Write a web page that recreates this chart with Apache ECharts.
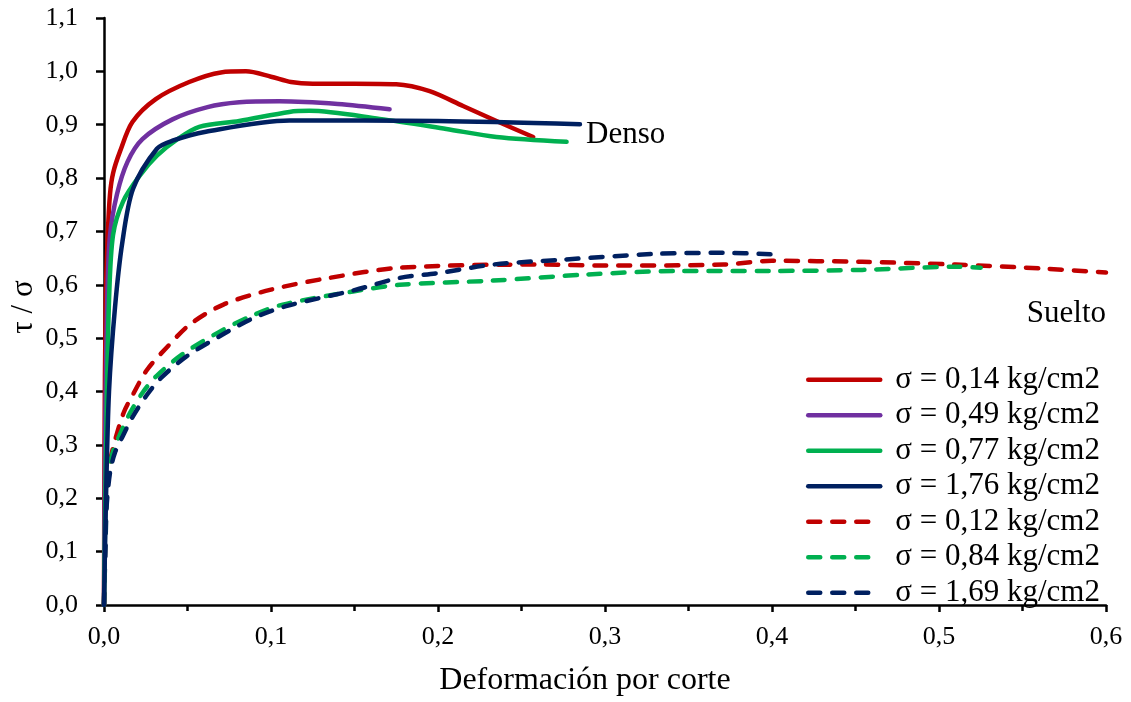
<!DOCTYPE html>
<html><head><meta charset="utf-8">
<script src="https://cdn.jsdelivr.net/npm/echarts@6/dist/echarts.min.js"></script>
<style>html,body{margin:0;padding:0;background:#fff}#c{width:1131px;height:702px}</style>
</head><body><div id="c"></div>
<script>
var xTicks = [0, 0.1, 0.2, 0.3, 0.4, 0.5, 0.6];
var yTicks = [0, 0.1, 0.2, 0.3, 0.4, 0.5, 0.6, 0.7, 0.8, 0.9, 1.0, 1.1];
var seriesNames = ['σ = 0,14 kg/cm2','σ = 0,49 kg/cm2','σ = 0,77 kg/cm2','σ = 1,76 kg/cm2','σ = 0,12 kg/cm2','σ = 0,84 kg/cm2','σ = 1,69 kg/cm2'];
// Denso (solid)
var denso014 = [[0,0],[0.0003,0.3],[0.001,0.56],[0.0022,0.69],[0.0036,0.77],[0.0055,0.81],[0.0096,0.85],[0.017,0.905],[0.031,0.948],[0.051,0.98],[0.07,0.998],[0.085,1.0],[0.1,0.99],[0.112,0.98],[0.125,0.977],[0.15,0.977],[0.175,0.976],[0.195,0.963],[0.215,0.935],[0.235,0.907],[0.257,0.877]];
var denso049 = [[0,0],[0.0008,0.35],[0.002,0.58],[0.0036,0.693],[0.0078,0.77],[0.014,0.83],[0.023,0.873],[0.041,0.91],[0.062,0.933],[0.081,0.942],[0.105,0.944],[0.14,0.939],[0.171,0.929]];
var denso077 = [[0,0],[0.0015,0.35],[0.003,0.57],[0.0054,0.693],[0.0114,0.756],[0.0215,0.805],[0.0317,0.842],[0.044,0.873],[0.057,0.896],[0.081,0.907],[0.111,0.924],[0.123,0.926],[0.165,0.911],[0.205,0.892],[0.235,0.877],[0.277,0.868]];
var denso176 = [[0,0],[0.0012,0.2],[0.003,0.4],[0.0066,0.558],[0.011,0.68],[0.0174,0.78],[0.0317,0.855],[0.041,0.87],[0.061,0.887],[0.111,0.908],[0.2,0.907],[0.285,0.901]];
// Suelto (dashed)
var suelto012 = [[0,0],[0.0006,0.1],[0.0012,0.18],[0.002,0.22],[0.0035,0.265],[0.0056,0.297],[0.0116,0.359],[0.0176,0.396],[0.0256,0.44],[0.0377,0.483],[0.0515,0.526],[0.0715,0.563],[0.1,0.591],[0.135,0.613],[0.177,0.632],[0.26,0.638],[0.3,0.636],[0.371,0.638],[0.4,0.645],[0.454,0.643],[0.51,0.638],[0.565,0.63],[0.6,0.623]];
var suelto084 = [[0,0],[0.0006,0.1],[0.0012,0.18],[0.002,0.22],[0.0035,0.262],[0.0056,0.29],[0.0096,0.32],[0.0156,0.36],[0.0236,0.4],[0.0317,0.43],[0.047,0.47],[0.068,0.51],[0.087,0.54],[0.107,0.563],[0.15,0.588],[0.177,0.6],[0.233,0.608],[0.288,0.619],[0.344,0.626],[0.399,0.626],[0.454,0.628],[0.51,0.634],[0.525,0.632]];
var suelto169 = [[0,0],[0.0008,0.1],[0.0015,0.18],[0.0025,0.22],[0.004,0.255],[0.0065,0.285],[0.011,0.315],[0.0176,0.355],[0.026,0.395],[0.034,0.425],[0.049,0.465],[0.07,0.505],[0.089,0.537],[0.109,0.56],[0.15,0.59],[0.177,0.613],[0.2,0.622],[0.233,0.638],[0.274,0.647],[0.33,0.658],[0.371,0.66],[0.4,0.657]];

var colors = ['#C00000','#7030A0','#00B050','#002060','#C00000','#00B050','#002060'];
var datasets = [denso014, denso049, denso077, denso176, suelto012, suelto084, suelto169];
var dashed = [false,false,false,false,true,true,true];

var font = '"Liberation Serif","Times New Roman",serif';
var fmt = function(v){ return (Math.round(v*10)/10).toFixed(1).replace('.', ','); };

var series = datasets.map(function(d, i){
  return {
    name: seriesNames[i], type: 'line', data: d, smooth: 0.3,
    symbol: 'none', showSymbol: false, color: colors[i],
    lineStyle: { color: colors[i], width: 4.5, type: dashed[i] ? [12, 12] : 'solid', cap: 'round', join: 'round' },
    z: dashed[i] ? 2 : 3
  };
});

var chart = echarts.init(document.getElementById('c'));
chart.setOption({
  animation: false,
  backgroundColor: '#fff',
  textStyle: { fontFamily: font },
  grid: { left: 104, right: 25, top: 18, bottom: 92, containLabel: false },
  xAxis: {
    type: 'value', min: xTicks[0], max: xTicks[xTicks.length-1], interval: 0.1,
    name: 'Deformación por corte', nameLocation: 'middle', nameGap: 60,
    nameTextStyle: { fontFamily: font, fontSize: 32, color: '#000', padding: [0, 40, 0, 0] },
    axisLine: { onZero: false, lineStyle: { color: '#000', width: 2.5 } },
    axisTick: { show: true, length: 7, lineStyle: { color: '#000', width: 2.5 } },
    minorTick: { show: true, splitNumber: 2, length: 6, lineStyle: { color: '#000', width: 2.5 } },
    axisLabel: { fontFamily: font, fontSize: 26, color: '#000', margin: 19, formatter: fmt },
    splitLine: { show: false }
  },
  yAxis: {
    type: 'value', min: yTicks[0], max: yTicks[yTicks.length-1], interval: 0.1,
    axisLine: { show: true, onZero: false, lineStyle: { color: '#000', width: 2.5 } },
    axisTick: { show: true, length: 8, lineStyle: { color: '#000', width: 2.5 } },
    axisLabel: { fontFamily: font, fontSize: 26, color: '#000', margin: 26, formatter: fmt },
    splitLine: { show: false }
  },
  legend: {
    orient: 'vertical', left: 801, top: 357, itemWidth: 72, itemHeight: 14, itemGap: 0,
    data: seriesNames,
    itemStyle: { opacity: 0 },
    lineStyle: { width: 4.5, cap: 'round' },
    textStyle: { fontFamily: font, fontSize: 31, color: '#000', lineHeight: 35.5, padding: [0, 0, 0, 10] }
  },
  graphic: [
    { type: 'text', left: 586, top: 119, style: { text: 'Denso', font: '31px ' + font, fill: '#000' } },
    { type: 'text', right: 25, top: 298, style: { text: 'Suelto', font: '31px ' + font, fill: '#000' } },
    { type: 'text', x: 24, y: 307, rotation: Math.PI/2, style: { text: 'τ / σ', font: '31px ' + font, fill: '#000', textAlign: 'center', textVerticalAlign: 'middle' } }
  ],
  series: series
});
</script></body></html>
